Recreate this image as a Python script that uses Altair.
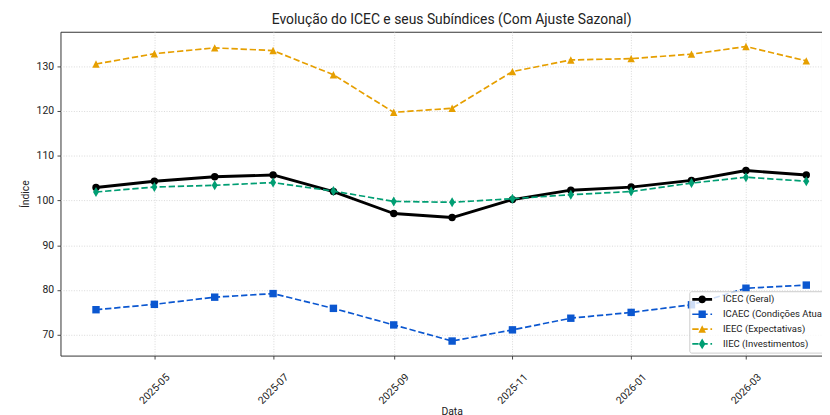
import altair as alt
import pandas as pd

# ---------------- data ----------------
dates = ["2025-04-01", "2025-05-01", "2025-06-01", "2025-07-01", "2025-08-01",
         "2025-09-01", "2025-10-01", "2025-11-01", "2025-12-01", "2026-01-01",
         "2026-02-01", "2026-03-01", "2026-04-01"]
icec = [102.9, 104.3, 105.3, 105.7, 102.0, 97.1, 96.2, 100.2, 102.3, 103.0, 104.5, 106.7, 105.7]
icaec = [75.6, 76.8, 78.4, 79.2, 75.9, 72.2, 68.6, 71.1, 73.7, 75.0, 76.7, 80.4, 81.1]
ieec = [130.5, 132.8, 134.1, 133.5, 128.1, 119.7, 120.6, 128.8, 131.4, 131.7, 132.7, 134.4, 131.2]
iiec = [101.9, 103.0, 103.4, 104.0, 102.1, 99.8, 99.6, 100.4, 101.3, 102.0, 103.9, 105.2, 104.3]

series_names = ["ICEC (Geral)", "ICAEC (Condições Atuais)", "IEEC (Expectativas)", "IIEC (Investimentos)"]
series_colors = ["#000000", "#0B57D0", "#E69F00", "#009E73"]
tick_dates = ["2025-05-01", "2025-07-01", "2025-09-01", "2025-11-01", "2026-01-01", "2026-03-01"]
y_ticks = [70, 80, 90, 100, 110, 120, 130]
y_domain = [65.35, 137.7]

title = "Evolução do ICEC e seus Subíndices (Com Ajuste Sazonal)"
x_title = "Data"
y_title = "Índice"

# ---------------- table ----------------
rows = []
for name, vals in zip(series_names, [icec, icaec, ieec, iiec]):
    for d, v in zip(dates, vals):
        rows.append({"date": d, "serie": name, "valor": v})
df = pd.DataFrame(rows)

# ---------------- layout ----------------
FONT = "Roboto"
W, H = 769, 327
full_w = 789  # full plot width of the original (partly outside the picture)


def ms(s):
    return int(pd.Timestamp(s).value // 10**6)


t0 = pd.Timestamp(dates[0])
t1 = pd.Timestamp(dates[-1])
span = (t1 - t0) * 1.1
d0 = t0 - (t1 - t0) * 0.05
d1 = d0 + span * (W / full_w)
x_domain = [int(d0.value // 10**6), int(d1.value // 10**6)]

x_enc = alt.X(
    "date:T",
    scale=alt.Scale(type="utc", domain=x_domain, nice=False),
    axis=alt.Axis(
        values=[ms(t) for t in tick_dates],
        labelExpr="utcFormat(datum.value, '%Y-%m')",
        labelAngle=-45, labelAlign="center", labelBaseline="middle",
        labelPadding=30, tickSize=3.5, title=x_title,
        titleX=395, titleY=59, titleBaseline="alphabetic", titleAlign="center",
        grid=True,
    ),
)
y_enc = alt.Y(
    "valor:Q",
    scale=alt.Scale(domain=y_domain, nice=False, zero=False),
    axis=alt.Axis(values=y_ticks, tickSize=3.5, labelPadding=3.5, title=y_title,
                  titlePadding=6, grid=True),
)

# marker shapes for the plot (unit box [-1, 1])
tri = "M0,-1L1,1L-1,1Z"
thin_diamond = "M0,-1.35L0.8,0L0,1.35L-0.8,0Z"
marker_shapes = ["circle", "square", tri, thin_diamond]
line_widths = [2.9, 1.7, 1.7, 1.7]
dashed = [False, True, True, True]

# legend handles: line + marker (unit = 10 px, handle 20 px long)
t = 0.087
dash = (f"M-1,-{t}H-0.36V{t}H-1Z M-0.083,-{t}H0.557V{t}H-0.083Z "
        f"M0.834,-{t}H1V{t}H0.834Z ")
leg_icec = ("M-1,-0.145H1V0.145H-1Z "
            "M0.38,0A0.38,0.38,0,1,1,-0.38,0A0.38,0.38,0,1,1,0.38,0Z")
leg_icaec = dash + "M-0.37,-0.37H0.37V0.37H-0.37Z"
leg_ieec = dash + "M0,-0.38L0.38,0.38L-0.38,0.38Z"
leg_iiec = dash + "M0,-0.54L0.33,0L0,0.54L-0.33,0Z"

layers = []
for name, col, shp, lw, dsh in zip(series_names, series_colors, marker_shapes, line_widths, dashed):
    sub = df[df["serie"] == name]
    line_kw = dict(color=col, strokeWidth=lw, strokeJoin="round")
    if dsh:
        line_kw["strokeDash"] = [6.4, 2.8]
    layers.append(alt.Chart(sub).mark_line(**line_kw).encode(x=x_enc, y=y_enc))
    layers.append(alt.Chart(sub).mark_point(shape=shp, filled=True, size=56, color=col,
                                            opacity=1).encode(x=x_enc, y=y_enc))

legend_def = dict(
    orient="none", legendX=635, legendY=262, title=None,
    symbolSize=400, symbolStrokeWidth=0, symbolOpacity=1,
    labelFont=FONT, labelFontSize=9.6, labelColor="#222222",
    clipHeight=14.5, rowPadding=0, padding=1, symbolOffset=2, labelOffset=11,
    fillColor="rgba(255,255,255,0.8)", strokeColor="#cccccc", cornerRadius=2,
)

legend_layer = alt.Chart(df).transform_filter("false").mark_point(
    filled=True, opacity=1
).encode(
    x=x_enc, y=y_enc,
    color=alt.Color("serie:N", scale=alt.Scale(domain=series_names, range=series_colors),
                    legend=alt.Legend(**legend_def)),
    shape=alt.Shape("serie:N", scale=alt.Scale(domain=series_names,
                                               range=[leg_icec, leg_icaec, leg_ieec, leg_iiec]),
                    legend=alt.Legend(**legend_def)),
)
layers.append(legend_layer)

chart = alt.layer(*layers).properties(
    width=W, height=H,
    padding={"left": 53, "top": 22, "right": 0, "bottom": 58},
    autosize=alt.AutoSizeParams(type="none"),
    title=alt.Title(title, font=FONT, fontSize=14, fontWeight="normal", color="#222222",
                    anchor="middle", dx=10.5, offset=5, frame="group"),
).configure_view(
    stroke="#333333", strokeWidth=1
).configure_axis(
    domain=False, labelFont=FONT, labelFontSize=10.5, labelColor="#222222",
    titleFont=FONT, titleFontSize=10.5, titleFontWeight="normal", titleColor="#222222",
    tickColor="#333333", tickWidth=0.9,
    gridColor="#cfcfcf", gridDash=[1, 1.6], gridWidth=0.8,
)

chart.save("out.html", embed_options={"renderer": "svg", "actions": False})
